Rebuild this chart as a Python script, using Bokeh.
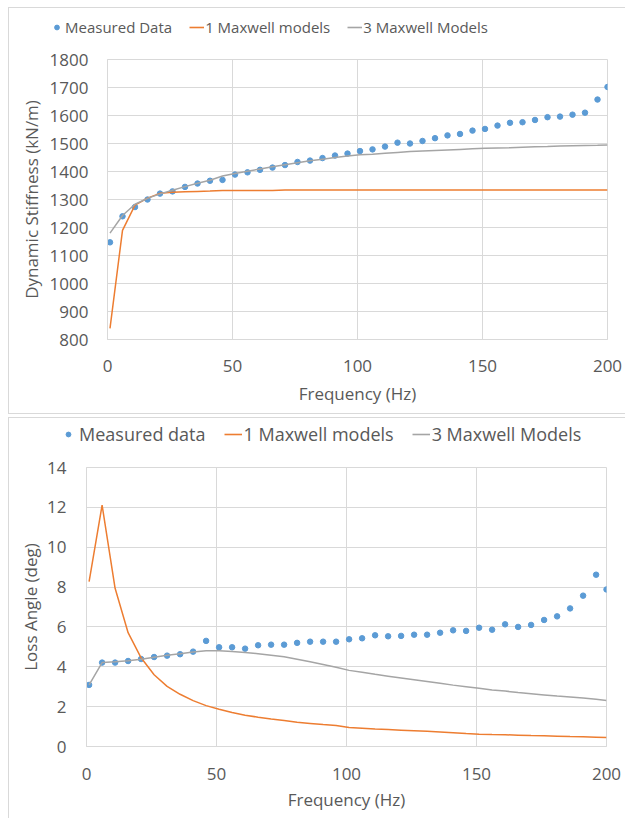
from bokeh.plotting import figure
from bokeh.models import Range1d, Legend, LegendItem, FixedTicker, Spacer
from bokeh.layouts import column, row
from bokeh.embed import file_html
from bokeh.resources import INLINE

# ---------------- data ----------------
freq = [1, 6, 11, 16, 21, 26, 31, 36, 41, 46, 51, 56, 61, 66, 71, 76, 81, 86, 91, 96,
        101, 106, 111, 116, 121, 126, 131, 136, 141, 146, 151, 156, 161, 166, 171, 176,
        181, 186, 191, 196, 200]

stiff_measured = [1147, 1240, 1273, 1300, 1321, 1329, 1345, 1357, 1367, 1370,
                  1389, 1397, 1406, 1414, 1423, 1434, 1439, 1448, 1457, 1464,
                  1473, 1479, 1489, 1503, 1500, 1509, 1519, 1529, 1534, 1546,
                  1552, 1564, 1574, 1576, 1584, 1594, 1596, 1603, 1610, 1657, 1702]
stiff_1maxwell = [840, 1190, 1280, 1305, 1322, 1326, 1328, 1329, 1330, 1332,
                  1332, 1332, 1332, 1332, 1334, 1334, 1334, 1334, 1334, 1334,
                  1334, 1334, 1334, 1334, 1334, 1334, 1334, 1334, 1334, 1334,
                  1334, 1334, 1334, 1334, 1334, 1334, 1334, 1334, 1334, 1334, 1334]
stiff_3maxwell = [1180, 1243, 1283, 1304, 1320, 1333, 1346, 1358, 1369, 1384,
                  1393, 1401, 1409, 1417, 1424, 1431, 1438, 1444, 1450, 1455,
                  1460, 1462, 1465, 1468, 1471, 1473, 1475, 1477, 1479, 1481,
                  1483, 1484, 1485, 1487, 1488, 1489, 1491, 1492, 1493, 1494, 1495]

loss_measured = [3.09, 4.21, 4.21, 4.29, 4.39, 4.49, 4.56, 4.63, 4.76, 5.30,
                 4.98, 4.98, 4.91, 5.08, 5.11, 5.11, 5.20, 5.26, 5.26, 5.26,
                 5.38, 5.43, 5.58, 5.53, 5.55, 5.61, 5.61, 5.71, 5.83, 5.80,
                 5.96, 5.86, 6.13, 6.00, 6.10, 6.35, 6.53, 6.93, 7.57, 8.62, 7.88]
loss_1maxwell = [8.27, 12.11, 7.94, 5.71, 4.45, 3.60, 3.02, 2.62, 2.30, 2.05,
                 1.87, 1.71, 1.57, 1.47, 1.38, 1.30, 1.22, 1.16, 1.10, 1.05,
                 0.95, 0.92, 0.88, 0.85, 0.82, 0.79, 0.76, 0.73, 0.69, 0.65,
                 0.62, 0.60, 0.59, 0.57, 0.55, 0.54, 0.52, 0.50, 0.49, 0.47, 0.45]
loss_3maxwell = [3.09, 4.21, 4.25, 4.30, 4.38, 4.48, 4.58, 4.66, 4.74, 4.80,
                 4.80, 4.77, 4.72, 4.66, 4.58, 4.50, 4.38, 4.25, 4.12, 3.98,
                 3.82, 3.72, 3.62, 3.53, 3.44, 3.35, 3.26, 3.17, 3.08, 3.00,
                 2.92, 2.84, 2.78, 2.71, 2.65, 2.59, 2.53, 2.48, 2.43, 2.37, 2.31]

x_ticks = [0, 50, 100, 150, 200]
stiff_ticks = [800, 900, 1000, 1100, 1200, 1300, 1400, 1500, 1600, 1700, 1800]
loss_ticks = [0, 2, 4, 6, 8, 10, 12, 14]

top_labels = ["Measured Data", "1 Maxwell models", "3 Maxwell Models"]
bottom_labels = ["Measured data", "1 Maxwell models", "3 Maxwell Models"]

# ---------------- styling ----------------
BLUE = "#5B9BD5"
ORANGE = "#ED7D31"
GRAY = "#A5A5A5"
GRID = "#D9D9D9"
TXT = "#595959"
FONT = "Open Sans"
BORDER = "1px solid #D9D9D9"


def box(*sides):
    st = {"box-sizing": "border-box"}
    for s in sides:
        st["border-" + s] = BORDER
    return st


def style_axes(p, ylabel, xs_tick, xs_lab, ys_tick, ys_lab):
    p.xaxis.ticker = FixedTicker(ticks=x_ticks)
    p.grid.grid_line_color = GRID
    p.grid.grid_line_width = 1
    p.outline_line_color = GRID
    for ax in (p.xaxis[0], p.yaxis[0]):
        ax.axis_line_color = GRID
        ax.major_tick_line_color = None
        ax.minor_tick_line_color = None
        ax.major_tick_out = 0
        ax.major_tick_in = 0
        ax.minor_tick_out = 0
        ax.major_label_text_font = FONT
        ax.major_label_text_font_size = "17px"
        ax.major_label_text_color = TXT
        ax.axis_label_text_font = FONT
        ax.axis_label_text_font_size = "17px"
        ax.axis_label_text_font_style = "normal"
        ax.axis_label_text_color = TXT
    p.xaxis.axis_label = "Frequency (Hz)"
    p.yaxis.axis_label = ylabel
    p.xaxis.major_label_standoff = xs_tick
    p.xaxis.axis_label_standoff = xs_lab
    p.yaxis.major_label_standoff = ys_tick
    p.yaxis.axis_label_standoff = ys_lab


def legend_strip(labels, series, height, loc, fsize, gw, spacing, standoff):
    """A frameless strip that carries only the legend of a chart.
    The series are drawn here outside the strip's (empty) view window,
    so that only their legend glyphs show."""
    lf = figure(width=617, height=height, output_backend="svg", toolbar_location=None,
                x_range=Range1d(-20, -10), y_range=Range1d(-20, -10), frame_align=False,
                min_border=0, styles=box("top", "left"))
    lf.axis.visible = False
    lf.grid.visible = False
    lf.outline_line_color = None
    meas, one, three = series
    r1 = lf.scatter(freq, meas, size=5.5, color=BLUE)
    r2 = lf.line(freq, one, line_width=1.6, color=ORANGE)
    r3 = lf.line(freq, three, line_width=1.6, color=GRAY)
    items = [LegendItem(label=l, renderers=[r]) for l, r in zip(labels, [r1, r2, r3])]
    lf.add_layout(Legend(items=items, location=loc, orientation="horizontal",
                         glyph_width=gw, glyph_height=12, label_standoff=standoff,
                         spacing=spacing, padding=0, margin=0,
                         border_line_color=None, background_fill_alpha=0,
                         label_text_font=FONT, label_text_font_size=fsize,
                         label_text_color=TXT))
    return lf


# ---------------- top chart ----------------
L1 = legend_strip(top_labels, (stiff_measured, stiff_1maxwell, stiff_3maxwell),
                  40, (40, 11), "15px", 15, 17, 1)
p1 = figure(width=617, height=367, output_backend="svg", toolbar_location=None,
            x_range=Range1d(0, 200), y_range=Range1d(800, 1800), frame_align=False,
            min_border_left=98, min_border_right=19, min_border_top=12, min_border_bottom=75,
            styles=box("left", "bottom"))
p1.yaxis.ticker = FixedTicker(ticks=stiff_ticks)
style_axes(p1, "Dynamic Stiffness (kN/m)", 20, 7, 19, 4)
p1.scatter(freq, stiff_measured, size=5.5, color=BLUE)
p1.line(freq, stiff_1maxwell, line_width=1.5, color=ORANGE)
p1.line(freq, stiff_3maxwell, line_width=1.5, color=GRAY)

# ---------------- bottom chart ----------------
L2 = legend_strip(bottom_labels, (loss_measured, loss_1maxwell, loss_3maxwell),
                  38, (50, 10), "18px", 18, 18, 2)
p2 = figure(width=617, height=363, output_backend="svg", toolbar_location=None,
            x_range=Range1d(0, 200), y_range=Range1d(0, 14), frame_align=False,
            min_border_left=77, min_border_right=20, min_border_top=12, min_border_bottom=72,
            styles=box("left"))
p2.yaxis.ticker = FixedTicker(ticks=loss_ticks)
style_axes(p2, "Loss Angle (deg)", 21, 5, 20, 2)
p2.scatter(freq, loss_measured, size=5.5, color=BLUE)
p2.line(freq, loss_1maxwell, line_width=1.5, color=ORANGE)
p2.line(freq, loss_3maxwell, line_width=1.5, color=GRAY)

layout = column(Spacer(width=625, height=7),
                row(Spacer(width=8, height=407), column(L1, p1)),
                Spacer(width=625, height=3),
                row(Spacer(width=8, height=401), column(L2, p2)))
open("out.html", "w").write(file_html(layout, INLINE))
